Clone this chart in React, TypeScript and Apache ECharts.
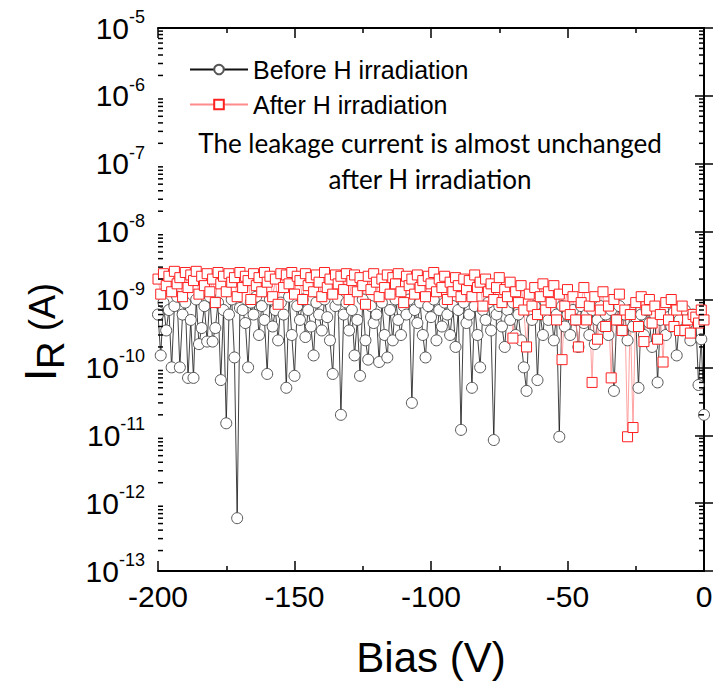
import React, { useEffect, useRef } from "react";
import * as echarts from "echarts";

const biasV = [
  -200, -199, -198, -197, -196, -195, -194, -193, -192, -191,
  -190, -189, -188, -187, -186, -185, -184, -183, -182, -181,
  -180, -179, -178, -177, -176, -175, -174, -173, -172, -171,
  -170, -169, -168, -167, -166, -165, -164, -163, -162, -161,
  -160, -159, -158, -157, -156, -155, -154, -153, -152, -151,
  -150, -149, -148, -147, -146, -145, -144, -143, -142, -141,
  -140, -139, -138, -137, -136, -135, -134, -133, -132, -131,
  -130, -129, -128, -127, -126, -125, -124, -123, -122, -121,
  -120, -119, -118, -117, -116, -115, -114, -113, -112, -111,
  -110, -109, -108, -107, -106, -105, -104, -103, -102, -101,
  -100, -99, -98, -97, -96, -95, -94, -93, -92, -91,
  -90, -89, -88, -87, -86, -85, -84, -83, -82, -81,
  -80, -79, -78, -77, -76, -75, -74, -73, -72, -71,
  -70, -69, -68, -67, -66, -65, -64, -63, -62, -61,
  -60, -59, -58, -57, -56, -55, -54, -53, -52, -51,
  -50, -49, -48, -47, -46, -45, -44, -43, -42, -41,
  -40, -39, -38, -37, -36, -35, -34, -33, -32, -31,
  -30, -29, -28, -27, -26, -25, -24, -23, -22, -21,
  -20, -19, -18, -17, -16, -15, -14, -13, -12, -11,
  -10, -9, -8, -7, -6, -5, -4, -3, -2, -1,
  0,
];

const beforeIrr = [
  6e-10, 1.5e-10, 9e-10, 3.5e-10, 7e-10, 1e-10, 8e-10, 1.1e-9, 1e-10, 6e-10,
  9e-10, 7e-11, 5e-10, 7e-11, 1e-9, 2.2e-10, 3.8e-10, 8e-10, 2.4e-10, 1.1e-9,
  2.4e-10, 3.8e-10, 9e-10, 6.5e-11, 7e-10, 1.5e-11, 6e-10, 1e-9, 1.4e-10, 6e-13,
  7.5e-10, 7e-10, 4.5e-10, 1e-10, 9e-10, 6e-10, 1.1e-9, 3e-10, 8e-10, 5e-10,
  8e-11, 1e-9, 4e-10, 7e-10, 2.5e-10, 9e-10, 6e-10, 5e-11, 1.1e-9, 3e-10,
  7.5e-11, 8e-10, 5e-10, 1e-9, 2.8e-10, 7e-10, 4e-10, 1.5e-10, 9e-10, 6e-10,
  3.5e-10, 1e-9, 5.5e-10, 2.5e-10, 8e-11, 8e-10, 1e-9, 2e-11, 6e-10, 9e-10,
  3.5e-10, 7e-10, 1.5e-10, 5e-10, 7.5e-11, 1e-9, 2.5e-10, 1.3e-10, 8e-10, 4.5e-10,
  6e-10, 1.2e-10, 9e-10, 3e-10, 1.4e-10, 7e-10, 2.5e-10, 1e-9, 5e-10, 3e-10,
  8e-10, 6e-10, 1e-9, 3e-11, 7e-10, 4.5e-10, 9e-10, 3e-10, 1.4e-10, 8e-10,
  5.5e-10, 1e-9, 2.5e-10, 7e-10, 4e-10, 9e-10, 6e-10, 3e-10, 8e-10, 2e-10,
  7e-10, 1.2e-11, 9e-10, 4.5e-10, 6e-10, 5e-11, 8e-10, 3e-10, 1e-10, 7e-10,
  5e-10, 9e-10, 3.5e-10, 8.5e-12, 6e-10, 8e-10, 4e-10, 2e-10, 7e-10, 5e-10,
  9e-10, 3e-10, 6e-10, 2.5e-10, 1e-10, 4.5e-11, 7e-10, 5e-10, 8e-10, 6.5e-11,
  6e-10, 3e-10, 9e-10, 5e-10, 7e-10, 2.5e-10, 6e-10, 9.5e-12, 8e-10, 4e-10,
  6e-10, 3e-10, 7e-10, 5e-10, 2e-10, 8e-10, 4.5e-10, 6e-10, 3e-10, 7e-10,
  2.2e-10, 5e-10, 8e-10, 4e-10, 6e-10, 3e-10, 7e-10, 4.5e-11, 5e-10, 8e-10,
  3.5e-10, 6e-10, 2.5e-10, 7e-10, 4e-10, 5.5e-10, 5e-11, 6e-10, 3e-10, 7e-10,
  4.5e-10, 2e-10, 6e-10, 6e-11, 5e-10, 7e-10, 3e-10, 5.5e-10, 4e-10, 6.5e-10,
  1.5e-10, 5e-10, 3.5e-10, 7e-10, 4.5e-10, 2.5e-10, 6e-10, 5e-10, 5.5e-11, 2.6e-10,
  2e-11,
];

const afterIrr = [
  2e-9, 1.2e-9, 2.4e-9, 1.6e-9, 2.2e-9, 1.3e-9, 2.6e-9, 1.7e-9, 2.1e-9, 1.1e-9,
  2.5e-9, 1.5e-9, 2.3e-9, 1.9e-9, 2.6e-9, 1.2e-9, 2.2e-9, 1.6e-9, 2.4e-9, 1.3e-9,
  2e-9, 9e-10, 2.5e-9, 1.7e-9, 2.2e-9, 1.3e-9, 2.4e-9, 1.8e-9, 2.1e-9, 1.1e-9,
  2.5e-9, 1.5e-9, 2.2e-9, 1.9e-9, 1e-9, 2.4e-9, 1.6e-9, 2.1e-9, 1.3e-9, 2.5e-9,
  1.8e-9, 2.2e-9, 1.1e-9, 2e-9, 8.5e-10, 2.4e-9, 1.5e-9, 2.3e-9, 1.7e-9, 2.5e-9,
  1.2e-9, 2.2e-9, 1.9e-9, 1e-9, 2.4e-9, 1.6e-9, 2.1e-9, 1.3e-9, 2.3e-9, 1.8e-9,
  1.1e-9, 2.5e-9, 1.5e-9, 2e-9, 1.2e-9, 2.3e-9, 1.7e-9, 2.2e-9, 1.4e-9, 2.4e-9,
  1e-9, 1.9e-9, 2.3e-9, 1.3e-9, 2.1e-9, 1.6e-9, 8.5e-10, 2.2e-9, 1.4e-9, 2.4e-9,
  1.8e-9, 1.1e-9, 2e-9, 1.5e-9, 2.3e-9, 1.2e-9, 2.1e-9, 1.7e-9, 2.4e-9, 1.3e-9,
  9e-10, 2.2e-9, 1.6e-9, 2e-9, 1.2e-9, 2.3e-9, 1.5e-9, 1.9e-9, 1.1e-9, 2.2e-9,
  1.7e-9, 2.5e-9, 1.3e-9, 2e-9, 1.5e-9, 2.2e-9, 1e-9, 1.8e-9, 1.3e-9, 2.1e-9,
  1.6e-9, 1.1e-9, 2e-9, 1.4e-9, 1.9e-9, 1.1e-9, 2.3e-9, 1.5e-9, 1.8e-9, 8e-10,
  2e-9, 1.3e-9, 1.7e-9, 1e-9, 1.5e-9, 2.1e-9, 9e-10, 1.4e-9, 1.1e-9, 1.8e-9,
  2.7e-10, 1.3e-9, 9e-10, 1.6e-9, 7e-10, 2e-10, 1.2e-9, 8e-10, 1.5e-9, 6e-10,
  1.1e-9, 1.7e-9, 7e-10, 1.3e-9, 9e-10, 1.6e-9, 5e-10, 1.2e-9, 1.3e-10, 8e-10,
  1.4e-9, 6e-10, 1.1e-9, 5e-10, 2e-10, 9e-10, 1.5e-9, 5e-10, 8e-10, 6e-11,
  1.1e-9, 2.6e-10, 7e-10, 1.3e-9, 4e-10, 8e-10, 7e-11, 1e-9, 5e-10, 1.2e-9,
  3.5e-10, 7e-10, 9.5e-12, 6e-10, 1.3e-11, 9e-10, 4e-10, 1.1e-9, 2.4e-10, 7e-10,
  1e-9, 4.5e-10, 8e-10, 2.6e-10, 6e-10, 1.2e-10, 9e-10, 5e-10, 1e-9, 4e-10,
  7e-10, 3.5e-10, 8e-10, 3.5e-10, 5e-10, 3.2e-10, 6e-10, 5.5e-10, 4.5e-10, 7e-10,
  5e-10,
];

const seriesNames = ["Before H irradiation", "After H irradiation"];
const noteLines = ["The leakage current is almost unchanged", "after H irradiation"];
const xTitle = "Bias (V)";
const yTitleParts = ["I", "R", " (A)"];

// log-axis minor tick positions (mantissa x decade)
const minorMantissas = [2, 3, 4, 5, 6, 7, 8, 9];
const minorDecades = [1e-13, 1e-12, 1e-11, 1e-10, 1e-9, 1e-8, 1e-7, 1e-6];

const FONT = "Liberation Sans";

export default function App() {
  const ref = useRef<HTMLDivElement>(null);

  useEffect(() => {
    if (!ref.current) return;
    const chart = echarts.init(ref.current, undefined, { renderer: "svg" });

    const before = biasV.map((v, i) => [v, beforeIrr[i]]);
    const after = biasV.map((v, i) => [v, afterIrr[i]]);
    const minorTicks: number[][] = [];
    minorDecades.forEach((d) => minorMantissas.forEach((m) => minorTicks.push([-200, m * d])));

    const axisLine = { show: true, lineStyle: { color: "#000", width: 2 } };
    const yAxisBase = {
      type: "log" as const,
      logBase: 10,
      min: 1e-13,
      max: 1e-5,
      splitNumber: 8,
      axisLine,
      splitLine: { show: false },
      axisTick: { show: true, inside: true, length: 9, lineStyle: { color: "#000", width: 1.5 } },
    };
    const xAxisBase = {
      type: "value" as const,
      min: -200,
      max: 0,
      interval: 50,
      axisLine: { ...axisLine, onZero: false },
      splitLine: { show: false },
      axisTick: { show: true, inside: true, length: 10, lineStyle: { color: "#000", width: 1.5 } },
      minorTick: { show: true, splitNumber: 2, length: 5, lineStyle: { color: "#000", width: 1.5 } },
    };

    chart.setOption({
      animation: false,
      backgroundColor: "#fff",
      grid: { left: 158, top: 28, right: 18, bottom: 111, containLabel: false },
      xAxis: [
        {
          ...xAxisBase,
          position: "bottom",
          axisLabel: { fontSize: 30, fontFamily: FONT, color: "#000", margin: 10 },
          name: xTitle,
          nameLocation: "middle",
          nameGap: 65,
          nameTextStyle: { fontSize: 42, fontFamily: FONT, color: "#000" },
        },
        {
          ...xAxisBase,
          position: "top",
          axisLabel: { show: false },
        },
      ],
      yAxis: [
        {
          ...yAxisBase,
          position: "left",
          axisLabel: {
            margin: 13,
            formatter: (v: number) => `{b|10}{s|${Math.round(Math.log10(v))}}`,
            rich: {
              b: { fontSize: 30, fontFamily: FONT, color: "#000", lineHeight: 40 },
              s: { fontSize: 18, fontFamily: FONT, color: "#000", lineHeight: 18, verticalAlign: "top" },
            },
          },
        },
        {
          ...yAxisBase,
          position: "right",
          axisLabel: { show: false },
        },
      ],
      legend: {
        orient: "vertical",
        left: 184,
        top: 52,
        itemWidth: 58,
        itemHeight: 12,
        itemGap: 10,
        data: seriesNames,
        textStyle: { fontSize: 25, fontFamily: FONT, color: "#000", lineHeight: 23 },
      },
      graphic: [
        {
          type: "text",
          x: 430,
          y: 143,
          style: { text: noteLines[0], fontSize: 26, fontFamily: "Lato", fill: "#000", align: "center", verticalAlign: "middle" },
        },
        {
          type: "text",
          x: 430,
          y: 179,
          style: { text: noteLines[1], fontSize: 26, fontFamily: "Lato", fill: "#000", align: "center", verticalAlign: "middle" },
        },
        {
          type: "text",
          x: 40,
          y: 381,
          rotation: Math.PI / 2,
          style: { text: yTitleParts[0], fontSize: 44, fontFamily: FONT, fill: "#000", align: "left", verticalAlign: "middle" },
        },
        {
          type: "text",
          x: 51,
          y: 369,
          rotation: Math.PI / 2,
          style: { text: yTitleParts[1], fontSize: 38, fontFamily: FONT, fill: "#000", align: "left", verticalAlign: "middle" },
        },
        {
          type: "text",
          x: 42,
          y: 341,
          rotation: Math.PI / 2,
          style: { text: yTitleParts[2], fontSize: 36, fontFamily: FONT, fill: "#000", align: "left", verticalAlign: "middle" },
        },
      ],
      series: [
        {
          name: seriesNames[0],
          type: "line",
          data: before,
          symbol: "circle",
          symbolSize: 11,
          itemStyle: { color: "#fff", borderColor: "#555", borderWidth: 1 },
          lineStyle: { color: "#111", width: 0.8 },
          emphasis: { disabled: true },
        },
        {
          name: seriesNames[1],
          type: "line",
          data: after,
          symbol: "rect",
          symbolSize: 10,
          itemStyle: { color: "#fff", borderColor: "#ff2020", borderWidth: 1 },
          lineStyle: { color: "#ff8c8c", width: 0.8 },
          emphasis: { disabled: true },
        },
        {
          name: "minorTicks",
          type: "custom",
          silent: true,
          z: 10,
          data: minorTicks,
          renderItem: (params: any, api: any) => {
            const v = api.value(1);
            const pL = api.coord([-200, v]);
            const pR = api.coord([0, v]);
            return {
              type: "group",
              children: [
                { type: "line", shape: { x1: pL[0], y1: pL[1], x2: pL[0] + 5, y2: pL[1] }, style: { stroke: "#000", lineWidth: 1.5 } },
                { type: "line", shape: { x1: pR[0] - 5, y1: pR[1], x2: pR[0], y2: pR[1] }, style: { stroke: "#000", lineWidth: 1.5 } },
              ],
            };
          },
        },
      ],
    });

    return () => chart.dispose();
  }, []);

  return (
    <div
      ref={ref}
      style={{ position: "absolute", left: 0, top: 0, width: 722, height: 683, background: "#fff" }}
    />
  );
}
